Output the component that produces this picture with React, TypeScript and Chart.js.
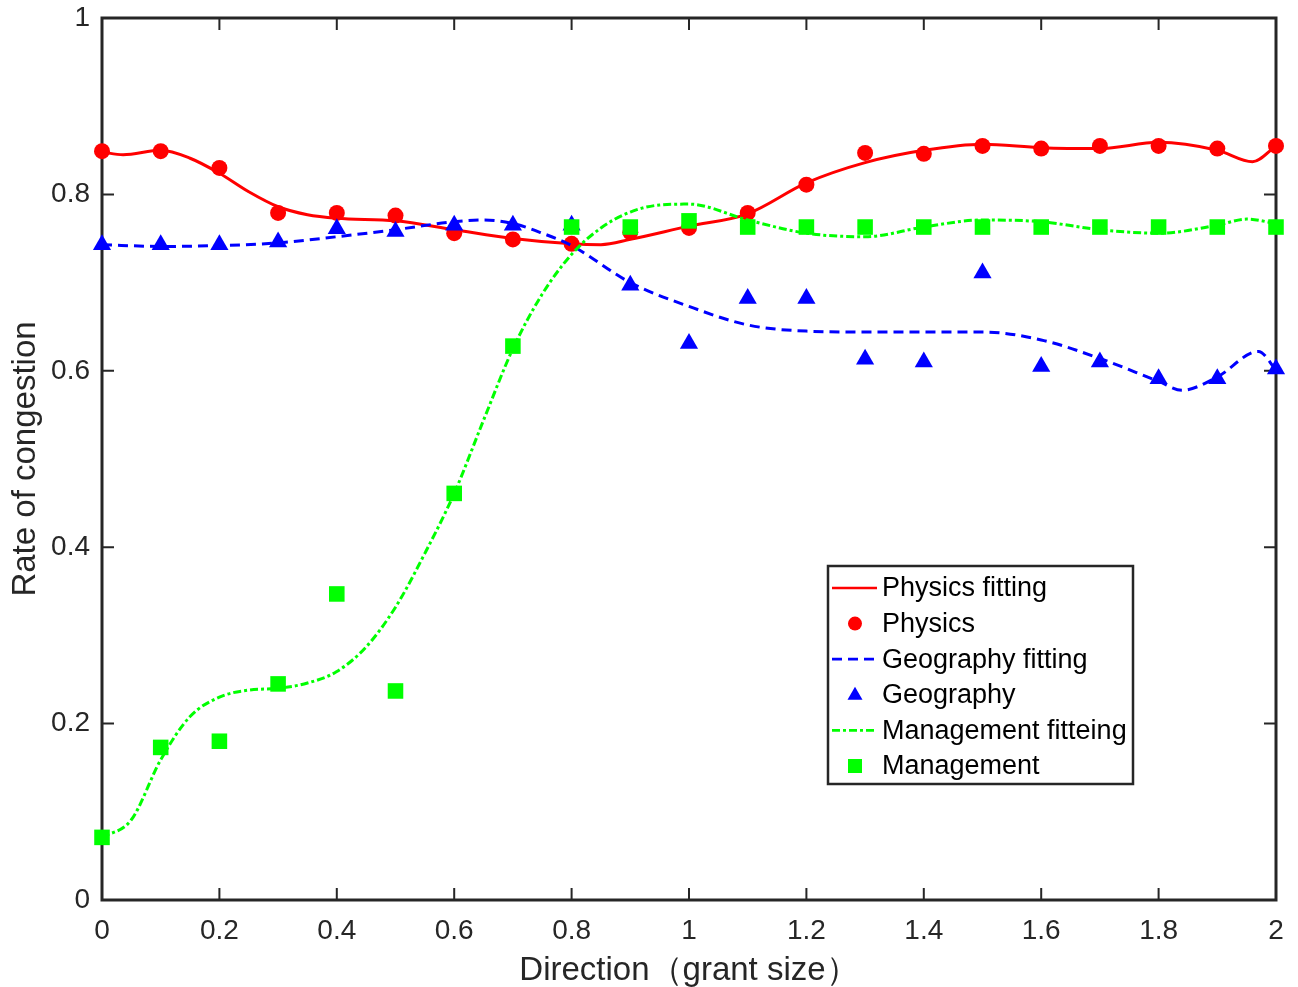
import { useEffect, useRef } from "react";
import { Chart, registerables } from "chart.js";

Chart.register(...registerables);

// ---- data ----
const markerX = [0, 0.1, 0.2, 0.3, 0.4, 0.5, 0.6, 0.7, 0.8, 0.9, 1.0, 1.1, 1.2, 1.3, 1.4, 1.5, 1.6, 1.7, 1.8, 1.9, 2.0];
const physicsY = [0.849, 0.849, 0.830, 0.779, 0.779, 0.776, 0.756, 0.749, 0.744, 0.757, 0.762, 0.779, 0.811, 0.847, 0.846, 0.855, 0.852, 0.855, 0.855, 0.852, 0.855];
const geographyY = [0.743, 0.743, 0.743, 0.746, 0.761, 0.758, 0.765, 0.765, 0.765, 0.697, 0.631, 0.682, 0.682, 0.613, 0.610, 0.711, 0.605, 0.610, 0.591, 0.591, 0.602];
const managementY = [0.071, 0.173, 0.180, 0.245, 0.347, 0.237, 0.461, 0.628, 0.763, 0.763, 0.770, 0.763, 0.763, 0.763, 0.763, 0.763, 0.763, 0.763, 0.763, 0.763, 0.763];

const physicsFitX = [0, 0.036, 0.1, 0.15, 0.2, 0.25, 0.3, 0.35, 0.4, 0.5, 0.6, 0.7, 0.8, 0.85, 0.9, 1.0, 1.1, 1.2, 1.3, 1.4, 1.5, 1.6, 1.7, 1.8, 1.9, 1.96, 2.0];
const physicsFitY = [0.848, 0.845, 0.850, 0.841, 0.824, 0.803, 0.786, 0.777, 0.773, 0.770, 0.760, 0.750, 0.744, 0.743, 0.749, 0.764, 0.778, 0.813, 0.836, 0.850, 0.857, 0.853, 0.852, 0.859, 0.850, 0.837, 0.855];

const geographyFitX = [0, 0.1, 0.2, 0.3, 0.4, 0.5, 0.6, 0.65, 0.7, 0.75, 0.8, 0.9, 1.0, 1.1, 1.2, 1.3, 1.4, 1.5, 1.6, 1.7, 1.8, 1.84, 1.9, 1.97, 2.0];
const geographyFitY = [0.743, 0.741, 0.742, 0.745, 0.752, 0.760, 0.769, 0.771, 0.767, 0.756, 0.742, 0.700, 0.673, 0.652, 0.645, 0.644, 0.644, 0.644, 0.635, 0.614, 0.588, 0.578, 0.593, 0.622, 0.601];

const managementFitX = [0, 0.05, 0.1, 0.15, 0.2, 0.25, 0.3, 0.35, 0.4, 0.45, 0.5, 0.55, 0.6, 0.65, 0.7, 0.75, 0.8, 0.85, 0.9, 0.95, 1.0, 1.1, 1.2, 1.3, 1.4, 1.5, 1.6, 1.7, 1.8, 1.9, 1.95, 2.0];
const managementFitY = [0.071, 0.091, 0.159, 0.208, 0.230, 0.238, 0.240, 0.246, 0.259, 0.287, 0.332, 0.393, 0.461, 0.544, 0.625, 0.687, 0.732, 0.762, 0.780, 0.788, 0.789, 0.771, 0.756, 0.752, 0.763, 0.771, 0.769, 0.760, 0.756, 0.765, 0.772, 0.767];

const legendLabels = ["Physics fitting", "Physics", "Geography fitting", "Geography", "Management fitteing", "Management"];
const xTitle = "Direction（grant size）";
const yTitle = "Rate of congestion";

const RED = "#ff0000";
const BLUE = "#0000ff";
const GREEN = "#00ff00";
const AXIS = "#262626";
const FONT = "'Liberation Sans', Arial, Helvetica, sans-serif";

const pts = (xs: number[], ys: number[]) => xs.map((x, i) => ({ x, y: ys[i] }));
const fmt = (v: any) => `${+Number(v).toFixed(2)}`;

const framePlugin = {
  id: "matlabFrame",
  beforeDatasetsDraw(chart: any) {
    const { ctx, chartArea, scales } = chart;
    const { left, right, top, bottom } = chartArea;
    const xs = scales.x;
    const ys = scales.y;
    const tl = 12;
    ctx.save();
    ctx.strokeStyle = AXIS;
    ctx.lineWidth = 2;
    ctx.beginPath();
    xs.ticks.forEach((t: any) => {
      const px = xs.getPixelForValue(t.value);
      ctx.moveTo(px, bottom);
      ctx.lineTo(px, bottom - tl);
      ctx.moveTo(px, top);
      ctx.lineTo(px, top + tl);
    });
    ys.ticks.forEach((t: any) => {
      const py = ys.getPixelForValue(t.value);
      ctx.moveTo(left, py);
      ctx.lineTo(left + tl, py);
      ctx.moveTo(right, py);
      ctx.lineTo(right - tl, py);
    });
    ctx.stroke();
    ctx.lineWidth = 3;
    ctx.strokeRect(left, top, right - left, bottom - top);
    ctx.restore();
  },
};

const legendPlugin = {
  id: "matlabLegend",
  afterDatasetsDraw(chart: any) {
    const { ctx } = chart;
    const bx = 828, by = 566, bw = 305, bh = 218;
    ctx.save();
    ctx.fillStyle = "#ffffff";
    ctx.fillRect(bx, by, bw, bh);
    ctx.strokeStyle = AXIS;
    ctx.lineWidth = 2.5;
    ctx.strokeRect(bx, by, bw, bh);
    const rowY0 = 588;
    const step = 35.6;
    const styles = [
      { kind: "line", color: RED, dash: [], width: 2.5 },
      { kind: "circle", color: RED },
      { kind: "line", color: BLUE, dash: [10, 6], width: 2.8 },
      { kind: "triangle", color: BLUE },
      { kind: "line", color: GREEN, dash: [8, 3, 3, 3], width: 2.8 },
      { kind: "rect", color: GREEN },
    ];
    legendLabels.forEach((label, i) => {
      const cy = rowY0 + i * step;
      const s: any = styles[i];
      ctx.fillStyle = s.color;
      ctx.strokeStyle = s.color;
      if (s.kind === "line") {
        ctx.setLineDash(s.dash);
        ctx.lineWidth = s.width;
        ctx.beginPath();
        ctx.moveTo(832, cy);
        ctx.lineTo(877, cy);
        ctx.stroke();
        ctx.setLineDash([]);
      } else if (s.kind === "circle") {
        ctx.beginPath();
        ctx.arc(855, cy, 7, 0, Math.PI * 2);
        ctx.fill();
      } else if (s.kind === "triangle") {
        ctx.beginPath();
        ctx.moveTo(855, cy - 8);
        ctx.lineTo(862.5, cy + 5);
        ctx.lineTo(847.5, cy + 5);
        ctx.closePath();
        ctx.fill();
      } else {
        ctx.fillRect(848, cy - 7, 14, 14);
      }
      ctx.fillStyle = "#000000";
      ctx.font = `27px ${FONT}`;
      ctx.textAlign = "left";
      ctx.textBaseline = "middle";
      ctx.fillText(label, 882, cy + 1);
    });
    ctx.restore();
  },
};

const zeroPad = (scale: any) => {
  scale.paddingTop = 0;
  scale.paddingBottom = 0;
  scale.paddingLeft = 0;
  scale.paddingRight = 0;
};

export default function App() {
  const ref = useRef<HTMLCanvasElement>(null);
  useEffect(() => {
    const canvas = ref.current;
    if (!canvas) return;
    const chart = new Chart(canvas, {
      type: "scatter",
      data: {
        datasets: [
          {
            label: legendLabels[5],
            data: pts(markerX, managementY),
            pointStyle: "rect",
            pointRadius: 11,
            backgroundColor: GREEN,
            borderColor: GREEN,
            borderWidth: 0,
            showLine: false,
            clip: false,
            order: 0,
          },
          {
            label: legendLabels[4],
            data: pts(managementFitX, managementFitY),
            showLine: true,
            pointRadius: 0,
            borderColor: GREEN,
            borderWidth: 3,
            borderDash: [8, 3, 3, 3],
            cubicInterpolationMode: "monotone",
            order: 1,
          },
          {
            label: legendLabels[3],
            data: pts(markerX, geographyY),
            pointStyle: "triangle",
            pointRadius: 10.5,
            backgroundColor: BLUE,
            borderColor: BLUE,
            borderWidth: 0,
            showLine: false,
            clip: false,
            order: 2,
          },
          {
            label: legendLabels[2],
            data: pts(geographyFitX, geographyFitY),
            showLine: true,
            pointRadius: 0,
            borderColor: BLUE,
            borderWidth: 3,
            borderDash: [10, 6],
            cubicInterpolationMode: "monotone",
            order: 3,
          },
          {
            label: legendLabels[1],
            data: pts(markerX, physicsY),
            pointStyle: "circle",
            pointRadius: 8,
            backgroundColor: RED,
            borderColor: RED,
            borderWidth: 0,
            showLine: false,
            clip: false,
            order: 4,
          },
          {
            label: legendLabels[0],
            data: pts(physicsFitX, physicsFitY),
            showLine: true,
            pointRadius: 0,
            borderColor: RED,
            borderWidth: 3,
            cubicInterpolationMode: "monotone",
            order: 5,
          },
        ] as any,
      },
      options: {
        responsive: false,
        devicePixelRatio: 1,
        animation: false,
        layout: { padding: { left: 0, right: 22, top: 18, bottom: 0 } },
        plugins: {
          legend: { display: false },
          tooltip: { enabled: false },
        },
        scales: {
          x: {
            type: "linear",
            min: 0,
            max: 2,
            grid: { display: false, drawTicks: false },
            border: { display: false },
            ticks: {
              stepSize: 0.2,
              color: AXIS,
              font: { family: FONT, size: 28 },
              padding: 14,
              maxRotation: 0,
              autoSkip: false,
              callback: fmt,
            },
            title: {
              display: true,
              text: xTitle,
              color: AXIS,
              font: { family: FONT, size: 33, lineHeight: 1 },
              padding: { top: 0, bottom: 0 },
            },
            afterFit: (scale: any) => {
              scale.height = 87;
              zeroPad(scale);
            },
          },
          y: {
            type: "linear",
            min: 0,
            max: 1,
            grid: { display: false, drawTicks: false },
            border: { display: false },
            ticks: {
              stepSize: 0.2,
              color: AXIS,
              font: { family: FONT, size: 28 },
              padding: 12,
              callback: fmt,
            },
            title: {
              display: true,
              text: yTitle,
              color: AXIS,
              font: { family: FONT, size: 33 },
              padding: { top: 6, bottom: 0 },
            },
            afterFit: (scale: any) => {
              scale.width = 102;
              zeroPad(scale);
            },
          },
        },
      } as any,
      plugins: [framePlugin, legendPlugin],
    });
    return () => chart.destroy();
  }, []);
  return (
    <div style={{ position: "absolute", left: 0, top: 0, width: 1298, height: 987, background: "#fff" }}>
      <canvas ref={ref} width={1298} height={987} style={{ display: "block" }} />
    </div>
  );
}
